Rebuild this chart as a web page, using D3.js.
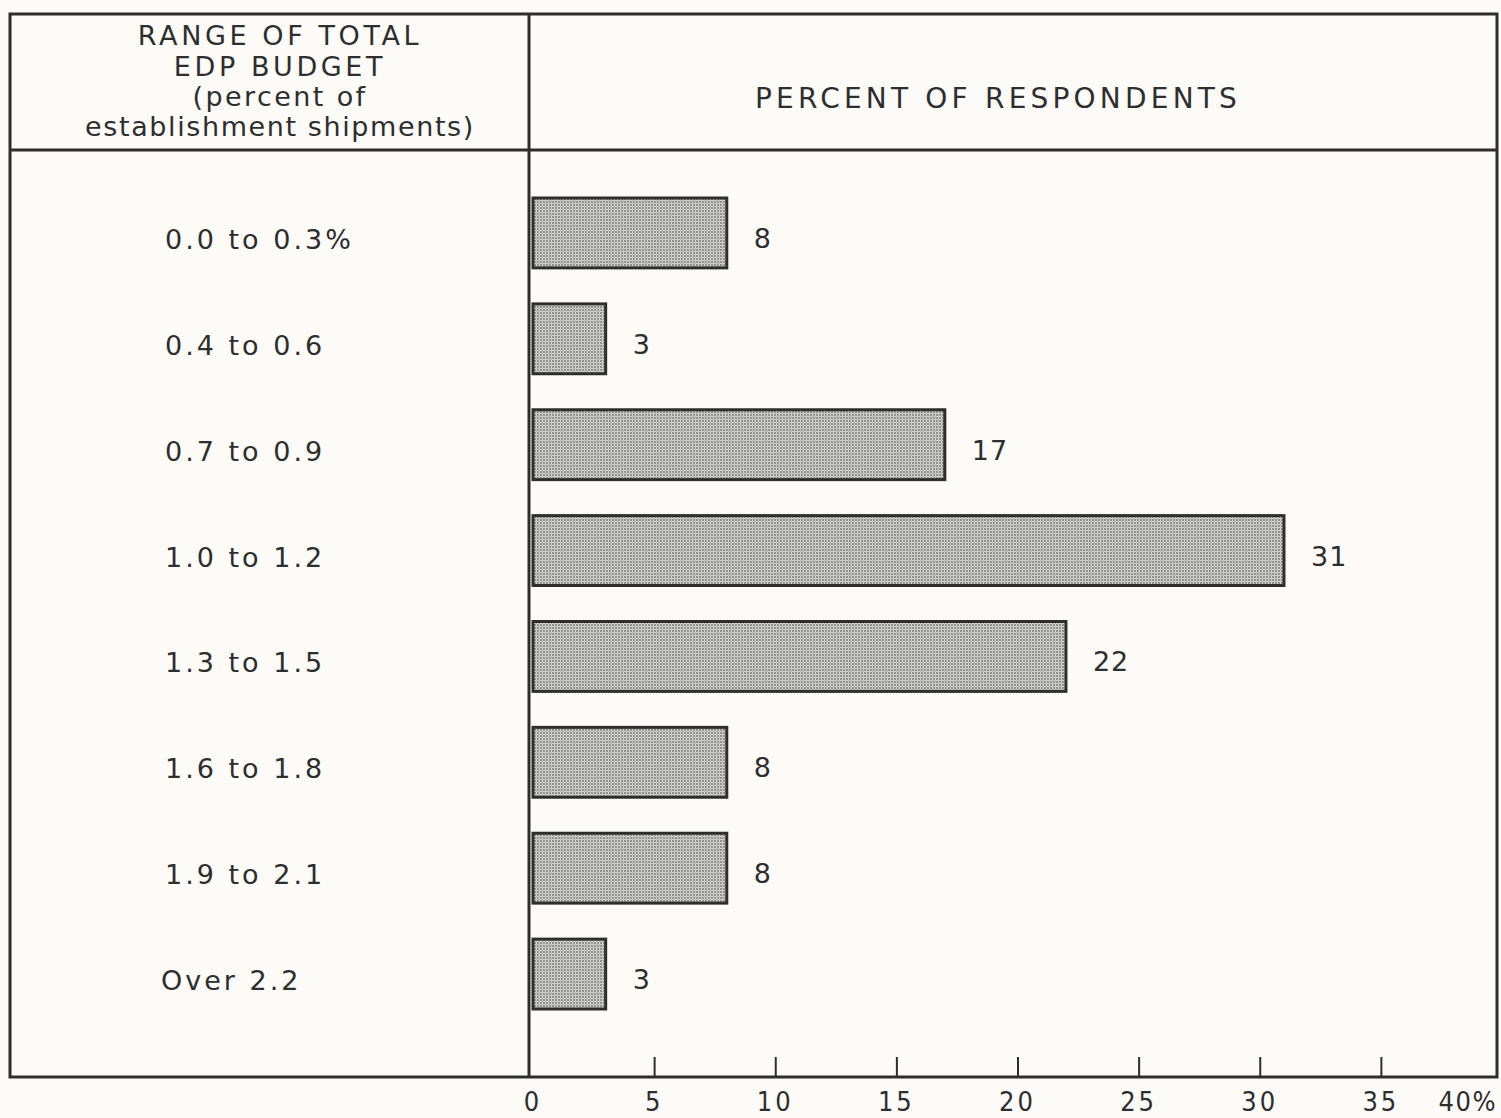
<!DOCTYPE html>
<html>
<head>
<meta charset="utf-8">
<script src="https://cdn.jsdelivr.net/npm/d3@7"></script>
<style>
  html, body { margin: 0; padding: 0; background: #fcfbf8; }
  svg { display: block; }
</style>
</head>
<body>
<svg id="chart" width="1501" height="1118"></svg>
<script>
// Ranges of total EDP budget (percent of establishment shipments)
const categories = ["0.0 to 0.3%", "0.4 to 0.6", "0.7 to 0.9", "1.0 to 1.2",
                    "1.3 to 1.5", "1.6 to 1.8", "1.9 to 2.1", "Over 2.2"];
// Percent of respondents in each range
const values = [8, 3, 17, 31, 22, 8, 8, 3];
// Axis ticks
const tickValues = [0, 5, 10, 15, 20, 25, 30, 35, 40];
const tickLabels = ["0", "5", "10", "15", "20", "25", "30", "35", "40%"];

const headerLeft = ["RANGE OF TOTAL", "EDP BUDGET", "(percent of", "establishment shipments)"];
const headerRight = "PERCENT OF RESPONDENTS";

const ink = "#2e2e2e";
const svg = d3.select("#chart");

const frame = { left: 10, top: 14, right: 1497, bottom: 1077, divider: 529, headerBottom: 150 };

const x = d3.scaleLinear().domain([0, 40]).range([533, 1502]);
const y = d3.scaleBand().domain(categories).range([180, 1027])
  .paddingInner(0.34).paddingOuter(0.17);

// Dot screen fill for bars
const defs = svg.append("defs");
const pat = defs.append("pattern").attr("id", "dots")
  .attr("width", 3).attr("height", 3).attr("patternUnits", "userSpaceOnUse");
pat.append("rect").attr("width", 3).attr("height", 3).attr("fill", "#d6d6d3");
pat.append("circle").attr("cx", 1).attr("cy", 1).attr("r", 0.9).attr("fill", "#6f6f6d");
pat.append("circle").attr("cx", 2.5).attr("cy", 2.5).attr("r", 0.5).attr("fill", "#a0a09d");

// Frame and panel lines
const g = svg.append("g");
g.append("rect")
  .attr("x", frame.left).attr("y", frame.top)
  .attr("width", frame.right - frame.left).attr("height", frame.bottom - frame.top)
  .attr("fill", "none").attr("stroke", ink).attr("stroke-width", 3);
g.append("line")
  .attr("x1", frame.divider).attr("x2", frame.divider)
  .attr("y1", frame.top).attr("y2", frame.bottom)
  .attr("stroke", ink).attr("stroke-width", 3);
g.append("line")
  .attr("x1", frame.left).attr("x2", frame.right)
  .attr("y1", frame.headerBottom).attr("y2", frame.headerBottom)
  .attr("stroke", ink).attr("stroke-width", 3);

// Header text
const headY = [45, 76, 106, 136];
const headSpacing = [3.6, 3.6, 2.4, 1.6];
const headSize = [27, 27, 27, 27];
g.selectAll("text.head").data(headerLeft).join("text")
  .attr("class", "head")
  .attr("x", 280).attr("y", (d, i) => headY[i]).attr("text-anchor", "middle")
  .attr("font-family", "DejaVu Sans, sans-serif")
  .attr("font-size", (d, i) => headSize[i])
  .attr("letter-spacing", (d, i) => headSpacing[i])
  .attr("fill", ink).text(d => d);
g.append("text")
  .attr("x", 998).attr("y", 108).attr("text-anchor", "middle")
  .attr("font-family", "DejaVu Sans, sans-serif").attr("font-size", 28)
  .attr("letter-spacing", 4.2)
  .attr("fill", ink).text(headerRight);

// Category labels
g.selectAll("text.cat").data(categories).join("text")
  .attr("class", "cat")
  .attr("x", (d, i) => i === categories.length - 1 ? 161 : 165)
  .attr("y", d => y(d) + y.bandwidth() / 2 + 16)
  .attr("font-family", "DejaVu Sans, sans-serif").attr("font-size", 27)
  .attr("letter-spacing", 3)
  .attr("fill", ink).text(d => d);

// Bars
g.selectAll("rect.bar").data(values).join("rect")
  .attr("class", "bar")
  .attr("x", x(0))
  .attr("y", (d, i) => y(categories[i]))
  .attr("width", d => x(d) - x(0))
  .attr("height", y.bandwidth())
  .attr("fill", "url(#dots)")
  .attr("stroke", ink).attr("stroke-width", 3);

// Value labels
g.selectAll("text.val").data(values).join("text")
  .attr("class", "val")
  .attr("x", d => x(d) + 27)
  .attr("y", (d, i) => y(categories[i]) + y.bandwidth() / 2 + 15)
  .attr("font-family", "DejaVu Sans, sans-serif").attr("font-size", 27)
  .attr("letter-spacing", 1)
  .attr("fill", ink).text(d => d);

// Bottom axis with inward ticks
const axis = d3.axisBottom(x).tickValues(tickValues.slice(1, -1))
  .tickSize(-20).tickFormat("");
const ax = g.append("g").attr("transform", `translate(0,${frame.bottom})`).call(axis);
ax.select(".domain").remove();
ax.selectAll(".tick line").attr("stroke", ink).attr("stroke-width", 2);

const lastTick = tickValues.length - 1;
g.selectAll("text.tick").data(tickValues).join("text")
  .attr("class", "tick")
  .attr("x", (d, i) => i === lastTick ? 1497 : x(d))
  .attr("y", 1111)
  .attr("text-anchor", (d, i) => i === lastTick ? "end" : "middle")
  .attr("font-family", "Liberation Sans Narrow, DejaVu Sans Condensed, sans-serif")
  .attr("font-size", 27)
  .attr("letter-spacing", (d, i) => i === lastTick ? 1.5 : 3)
  .attr("fill", ink).text((d, i) => tickLabels[i]);
</script>
</body>
</html>
